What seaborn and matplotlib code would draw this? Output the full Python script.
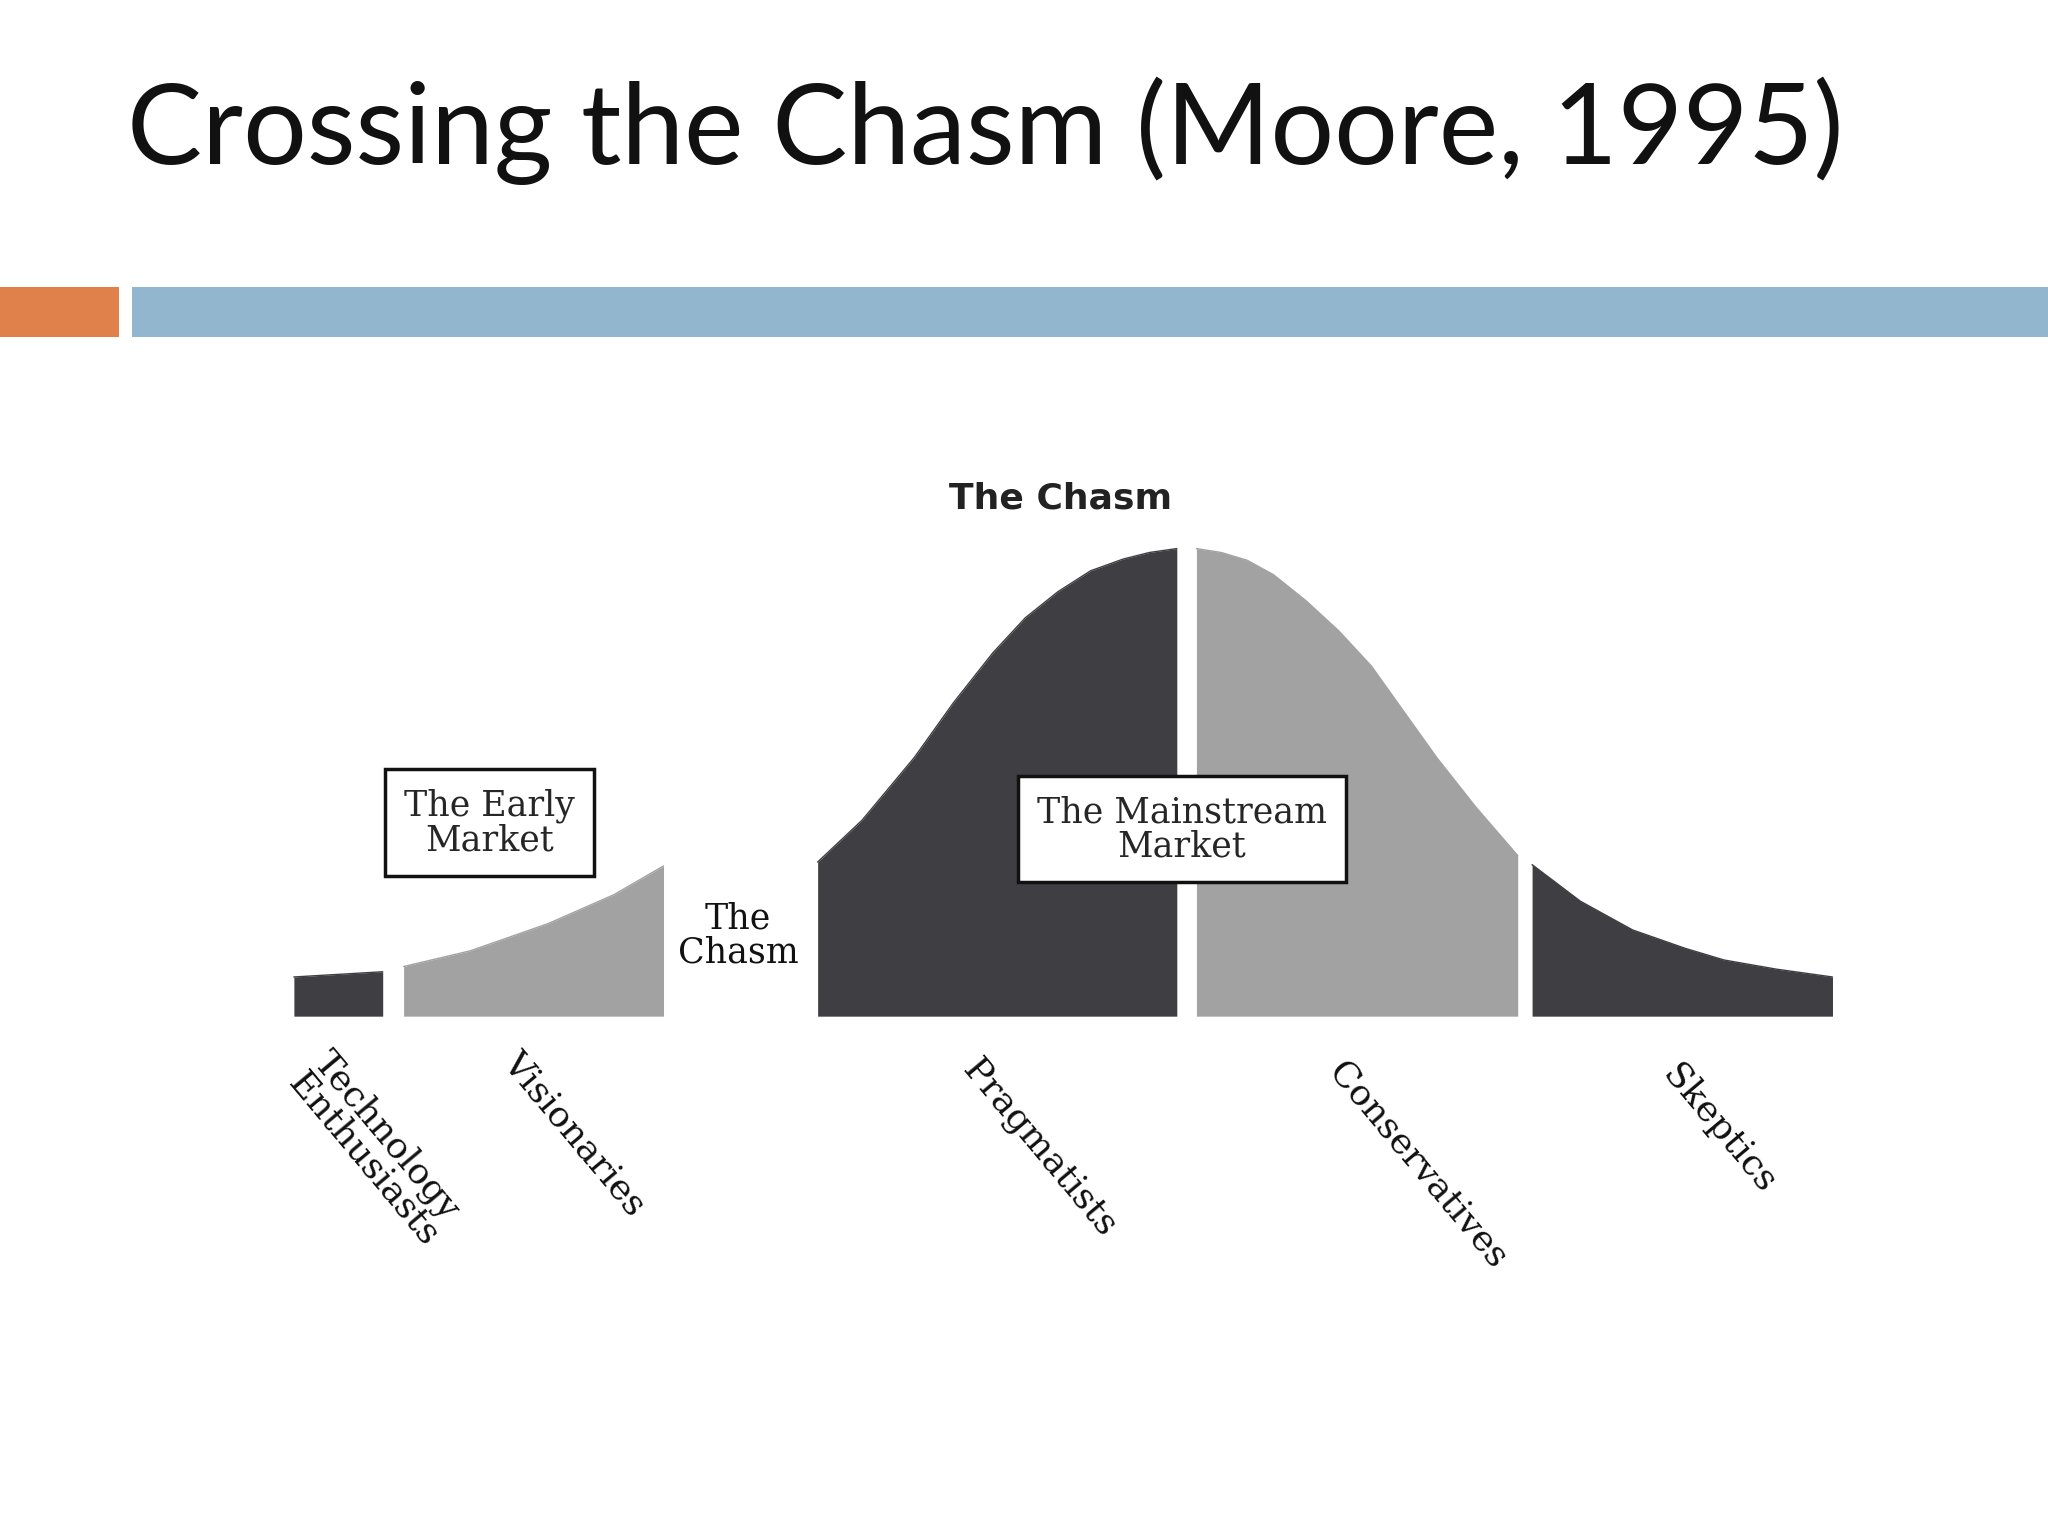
import matplotlib
matplotlib.use("Agg")
import matplotlib.pyplot as plt
import seaborn as sns
import pandas as pd
from matplotlib.patches import Rectangle

sns.set_theme(style="white")
plt.rcParams['font.family'] = ['Lato', 'DejaVu Sans']

# Segment outlines (x position, curve height above baseline)
segments = ["Technology\nEnthusiasts", "Visionaries", "Pragmatists", "Conservatives", "Skeptics"]
seg_x = [
    [225, 293],
    [309, 360, 420, 470, 508],
    [626, 660, 700, 730, 760, 785, 810, 835, 860, 880, 901],
    [916, 935, 955, 975, 1000, 1025, 1050, 1100, 1130, 1162],
    [1173, 1210, 1250, 1290, 1320, 1360, 1403],
]
seg_h = [
    [30, 34],
    [38, 50, 71, 93, 115],
    [118, 150, 198, 240, 278, 305, 325, 341, 350, 355, 358],
    [358, 355, 349, 338, 318, 295, 268, 198, 160, 123],
    [116, 88, 66, 52, 43, 36, 30],
]
seg_colors = ["#3f3e43", "#a2a2a2", "#3f3e43", "#a2a2a2", "#3f3e43"]
label_pos = [(255, 800), (400, 800), (752, 806), (1032, 808), (1288, 810)]
baseline = 778

fig = plt.figure(figsize=(20.48, 15.36), dpi=100)
ax = fig.add_axes([0, 0, 1, 1])
ax.set_xlim(0, 1568)
ax.set_ylim(1176, 0)
ax.axis("off")

# header bars
ax.add_patch(Rectangle((0, 220), 91, 38, color="#E0804A", lw=0))
ax.add_patch(Rectangle((101, 220), 1467, 38, color="#93B6CF", lw=0))
ax.text(97, 100, "Crossing the Chasm (Moore, 1995)", fontsize=81, va="center",
        ha="left", color="#111111")

for name, xs, hs, c, (lx, ly) in zip(segments, seg_x, seg_h, seg_colors, label_pos):
    df = pd.DataFrame({"x": xs, "y": [baseline - h for h in hs]})
    ax.fill_between(df["x"], df["y"], baseline, color=c, lw=0)
    sns.lineplot(data=df, x="x", y="y", ax=ax, color=c, lw=1, legend=False)
    ax.text(lx, ly, name, rotation=-50, rotation_mode="anchor", ha="left", va="top",
            fontsize=26, family="DejaVu Serif", color="#111111", linespacing=0.95)

ax.set_xlabel(""); ax.set_ylabel("")

ax.text(812, 382, "The Chasm", fontsize=26, fontweight="bold", ha="center",
        va="center", family="DejaVu Sans", color="#222222")
ax.text(565, 716, "The\nChasm", fontsize=25, ha="center", va="center",
        family="DejaVu Serif", color="#111111", linespacing=1.0)
box = dict(boxstyle="square,pad=0.55", fc="white", ec="#111111", lw=2.5)
ax.text(375, 630, "The Early\nMarket", fontsize=25, ha="center", va="center",
        family="DejaVu Serif", bbox=box, linespacing=1.0)
ax.text(905, 635, "The Mainstream\nMarket", fontsize=25, ha="center", va="center",
        family="DejaVu Serif", bbox=box, linespacing=1.0)

fig.savefig("out.png", dpi=100, facecolor="white")
